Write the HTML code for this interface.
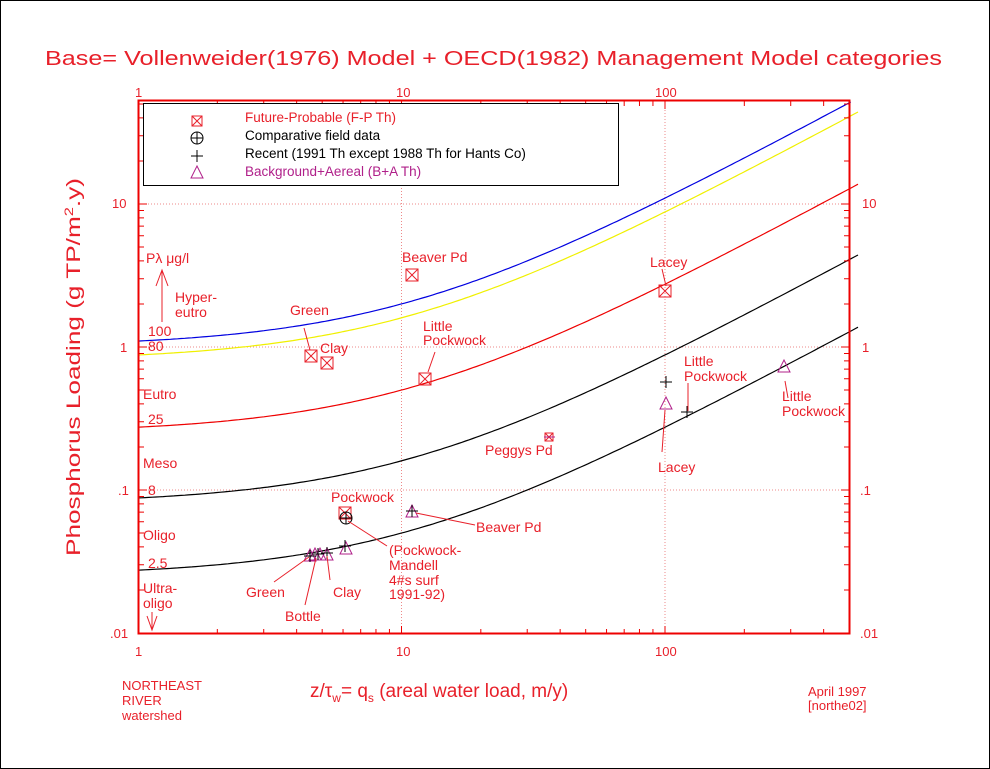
<!DOCTYPE html>
<html><head><meta charset="utf-8"><style>
html,body{margin:0;padding:0;background:#fff;}
svg{display:block;font-family:"Liberation Sans",sans-serif;}
</style></head><body>
<svg id="s" width="990" height="769" viewBox="0 0 990 769" xmlns="http://www.w3.org/2000/svg">
<rect x="0.5" y="0.5" width="989" height="768" fill="#fff" stroke="#000" stroke-width="1"/>
<text x="45" y="65" font-size="20" fill="#e8202a" textLength="897" lengthAdjust="spacingAndGlyphs">Base= Vollenweider(1976) Model + OECD(1982) Management Model categories</text>
<g id="grid" stroke="#e88" stroke-width="1" stroke-dasharray="1,2" fill="none"></g>
<g id="curves" fill="none" stroke-width="1.2"></g>
<rect x="138.5" y="100.5" width="711" height="533" fill="none" stroke="#e00" stroke-width="2"/>
<g id="ticks" stroke="#e00" stroke-width="1"></g>
<!-- axis labels -->
<g font-size="13" fill="#e8202a">
<text x="135" y="97">1</text><text x="396" y="97">10</text><text x="655" y="97">100</text>
<text x="135" y="656">1</text><text x="396" y="656">10</text><text x="655" y="656">100</text>
<text x="112" y="208">10</text><text x="120" y="352">1</text><text x="118" y="495">.1</text><text x="110" y="638">.01</text>
<text x="862" y="208">10</text><text x="862" y="352">1</text><text x="860" y="495">.1</text><text x="860" y="638">.01</text>
</g>
<text transform="translate(80,556) rotate(-90)" font-size="19" fill="#e8202a" textLength="378" lengthAdjust="spacingAndGlyphs">Phosphorus Loading (g TP/m<tspan font-size="12" dy="-7">2</tspan><tspan dy="7">.y)</tspan></text>
<text x="310" y="697" font-size="19" fill="#e8202a">z/τ<tspan font-size="12" dy="5">w</tspan><tspan dy="-5">= q</tspan><tspan font-size="12" dy="5">s</tspan><tspan dy="-5"> (areal water load, m/y)</tspan></text>
<g font-size="13" fill="#e8202a">
<text x="122" y="690">NORTHEAST</text><text x="122" y="705">RIVER</text><text x="122" y="720">watershed</text>
<text x="808" y="696">April 1997</text><text x="808" y="710">[northe02]</text>
</g>
<!-- legend -->
<rect x="143.5" y="103.5" width="475" height="82" fill="#fff" stroke="#000" stroke-width="1"/>
<g font-size="13.5">
<text x="245" y="122" fill="#e8202a">Future-Probable (F-P Th)</text>
<text x="245" y="140" fill="#000">Comparative field data</text>
<text x="245" y="158" fill="#000">Recent (1991 Th except 1988 Th for Hants Co)</text>
<text x="245" y="176" fill="#b0208a">Background+Aereal (B+A Th)</text>
</g>
<g id="pts"></g>
<!-- left category text -->
<g font-size="14" fill="#e8202a">
<text x="146" y="263">Pλ μg/l</text>
<text x="175" y="302">Hyper-</text><text x="175" y="317">eutro</text>
<text x="148" y="336">100</text><text x="148" y="351">80</text>
<text x="143" y="399">Eutro</text><text x="148" y="424">25</text>
<text x="143" y="468">Meso</text><text x="148" y="495">8</text>
<text x="143" y="540">Oligo</text><text x="148" y="568">2.5</text>
<text x="143" y="593">Ultra-</text><text x="143" y="608">oligo</text>
</g>
<g stroke="#e8202a" fill="none" stroke-width="1">
<path d="M162 322V270M156 286L162 270L168 286"/>
<path d="M152 612V630M147 616L152 630L157 616"/>
</g>
<!-- point labels -->
<g font-size="14" fill="#e8202a">
<text x="402" y="262">Beaver Pd</text>
<text x="290" y="315">Green</text>
<text x="320" y="353">Clay</text>
<text x="423" y="331">Little</text><text x="423" y="345">Pockwock</text>
<text x="650" y="267">Lacey</text>
<text x="485" y="455">Peggys Pd</text>
<text x="331" y="502">Pockwock</text>
<text x="476" y="532">Beaver Pd</text>
<text x="389" y="555">(Pockwock-</text><text x="389" y="570">Mandell</text><text x="389" y="585">4#s surf</text><text x="389" y="599">1991-92)</text>
<text x="246" y="597">Green</text>
<text x="285" y="621">Bottle</text>
<text x="333" y="597">Clay</text>
<text x="684" y="366">Little</text><text x="684" y="381">Pockwock</text>
<text x="658" y="472">Lacey</text>
<text x="782" y="401">Little</text><text x="782" y="416">Pockwock</text>
</g>
<g stroke="#e8202a" stroke-width="1" fill="none">
<path d="M304 328L310 350"/><path d="M435 352L428 372"/><path d="M662 269L666 286"/>
<path d="M348 521L387 546"/><path d="M416 513L475 525"/>
<path d="M274 582L309 557"/><path d="M305 605L316 558"/><path d="M330 580L327 556"/>
<path d="M688 383V411"/><path d="M662 452L665 410"/><path d="M785 381L788 398"/>
</g>
<script>
(function(){
var NS="http://www.w3.org/2000/svg";
function X(q){return 138+263.5*Math.log10(q);}
function Y(L){return 347-143*Math.log10(L);}
function el(p,tag,a){var e=document.createElementNS(NS,tag);for(var k in a)e.setAttribute(k,a[k]);p.appendChild(e);return e;}
var g=document.getElementById("grid");
[10,100].forEach(function(q){el(g,"line",{x1:X(q),x2:X(q),y1:101,y2:633});});
[10,1,0.1].forEach(function(L){el(g,"line",{x1:139,x2:849,y1:Y(L),y2:Y(L)});});
var t=document.getElementById("ticks"),d="";
for(var dec=1;dec<=100;dec*=10)for(var m=1;m<10;m++){var q=dec*m;var x=X(q);if(x>849)break;var len=m==1?8:5;
 d+="M"+x+" 634v-"+len+"M"+x+" 101v"+len;}
for(var dec=0.01;dec<=10;dec*=10)for(var m=1;m<10;m++){var L=dec*m;var y=Y(L);if(y<101)break;var len=m==1?8:5;
 d+="M139 "+y+"h"+len+"M849 "+y+"h-"+len;}
el(t,"path",{d:d});
var c=document.getElementById("curves");
[[0.1,"#0000e0"],[0.08,"#f0f000"],[0.025,"#e00"],[0.008,"#000"],[0.0025,"#000"]].forEach(function(a){
 var p="";for(var i=0;i<=200;i++){var lq=i/200*Math.log10(540);var q=Math.pow(10,lq);var y=Y(a[0]*(q+10));var x=X(q);if(y<101)continue;p+=(p?"L":"M")+x.toFixed(1)+" "+y.toFixed(1);}
 el(c,"path",{d:p,stroke:a[1]});});
var P=document.getElementById("pts");
function box(x,y,s){s=s||7;el(P,"rect",{x:x-s,y:y-s,width:2*s,height:2*s,fill:"none",stroke:"#e8202a"});el(P,"path",{d:"M"+(x-s)+" "+(y-s)+"L"+(x+s)+" "+(y+s)+"M"+(x+s)+" "+(y-s)+"L"+(x-s)+" "+(y+s),stroke:"#e8202a",fill:"none"});}
function tri(x,y){el(P,"path",{d:"M"+x+" "+(y-7)+"L"+(x+6)+" "+(y+5)+"L"+(x-6)+" "+(y+5)+"Z",fill:"none",stroke:"#b0208a"});}
function plus(x,y){el(P,"path",{d:"M"+(x-6)+" "+y+"h12M"+x+" "+(y-6)+"v12",stroke:"#000",fill:"none"});}
function cp(x,y){el(P,"circle",{cx:x,cy:y,r:6,fill:"none",stroke:"#000"});plus(x,y);}
box(197,121,5);cp(197,138);plus(197,156);tri(197,173);
box(412,275,6);box(311,356,6);box(327,363,6);box(425,379,6);box(665,291,6);
box(549,437,4);el(P,"path",{d:"M544 437h11",stroke:"#b0208a"});
box(345,513,6);cp(346,518);
tri(412,512);plus(412,511);
tri(310,556);tri(315,555);tri(320,555);tri(327,555);plus(310,556);plus(318,554);plus(327,553);
tri(346,549);plus(345,546);
plus(666,382);tri(666,404);plus(687,412);tri(784,367);
})();
</script>
</svg>
</body></html>
